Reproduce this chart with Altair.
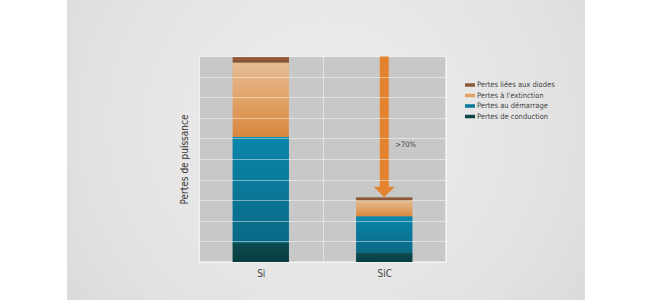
import altair as alt
import pandas as pd

categories = ["Si", "SiC"]
series = ["Pertes de conduction", "Pertes au démarrage", "Pertes à l'extinction", "Pertes liées aux diodes"]
si_values = [0.94, 5.14, 3.60, 0.27]
sic_values = [0.45, 1.77, 0.76, 0.15]
y_ticks = list(range(0, 11))
arrow_label = ">70%"
arrow_label_y = [5.7]

legend_order = ["Pertes liées aux diodes", "Pertes à l'extinction", "Pertes au démarrage", "Pertes de conduction"]
solid = {
    "Pertes liées aux diodes": "#8c5a3a",
    "Pertes à l'extinction": "#e2a466",
    "Pertes au démarrage": "#0a7a9c",
    "Pertes de conduction": "#0b4548",
}
grad = {
    "Pertes liées aux diodes": ("#9a6442", "#7f5032"),
    "Pertes à l'extinction": ("#e6bd93", "#d9883d"),
    "Pertes au démarrage": ("#0a86ab", "#0a6985"),
    "Pertes de conduction": ("#0d4c50", "#073d41"),
}

rows = []
for cat, vals in zip(categories, [si_values, sic_values]):
    for i, (s, v) in enumerate(zip(series, vals)):
        rows.append({"category": cat, "series": s, "value": v, "order": i})
df = pd.DataFrame(rows)

W, H = 247, 206
FONT = "Liberation Sans Narrow, DejaVu Sans Condensed, Roboto, sans-serif"

xaxis = alt.Axis(title=None, ticks=False, domain=False, labelAngle=0,
                 labelFontSize=10, labelColor="#444", labelPadding=6,
                 labelFont=FONT, grid=True, tickBand="extent",
                 gridColor="#ffffff", gridOpacity=0.45, zindex=1)
xscale = alt.Scale(paddingInner=0, paddingOuter=0)
yscale = alt.Scale(domain=[0, 10], nice=False)
yaxis = alt.Axis(title="Pertes de puissance", values=y_ticks, labels=False, ticks=False,
                 domain=False, grid=True, gridColor="#ffffff", gridOpacity=0.45,
                 titleFontSize=10, titleFontWeight="normal", titleColor="#333",
                 titleFont=FONT, titlePadding=10, zindex=1)


def X():
    return alt.X("category:N", sort=categories, scale=xscale, axis=xaxis)


def Y(field):
    return alt.Y(field, scale=yscale, axis=yaxis)


one = pd.DataFrame({"k": [0]})

panel = alt.Chart(one).mark_rect(
    fill=alt.RadialGradient(gradient="radial",
                            stops=[alt.GradientStop(color="#efefef", offset=0),
                                   alt.GradientStop(color="#e2e2e2", offset=0.6),
                                   alt.GradientStop(color="#d4d4d4", offset=1)],
                            x1=0.5, y1=0.45, r1=0, x2=0.5, y2=0.45, r2=0.75)
).encode(x=alt.value(-132), x2=alt.value(386), y=alt.value(-56), y2=alt.value(244))

plotbg = alt.Chart(one).mark_rect(fill="#c8c8c8", stroke="#ececec", strokeWidth=1.5).encode(
    x=alt.value(0), x2=alt.value(W), y=alt.value(0), y2=alt.value(H))

base = alt.Chart(df).transform_stack(
    stack="value", groupby=["category"], sort=[alt.SortField("order")], as_=["y0", "y1"])

solid_bars = base.mark_bar(size=56).encode(
    x=X(),
    y=Y("y0:Q"),
    y2="y1:Q",
    color=alt.Color("series:N", scale=alt.Scale(domain=legend_order,
                                                range=[solid[s] for s in legend_order]),
                    legend=alt.Legend(title=None)),
)

grad_layers = []
for s in series:
    top, bot = grad[s]
    g = alt.LinearGradient(gradient="linear",
                           stops=[alt.GradientStop(color=top, offset=0),
                                  alt.GradientStop(color=bot, offset=1)],
                           x1=0, x2=0, y1=0, y2=1)
    grad_layers.append(
        base.transform_filter(alt.datum.series == s).mark_bar(size=56, fill=g).encode(
            x=X(), y=Y("y0:Q"), y2="y1:Q",
        )
    )

arrow_base = alt.Chart(df).transform_filter(alt.datum.category == "SiC").transform_aggregate(
    total="sum(value)", groupby=["category"]).transform_calculate(top=str(y_ticks[-1]))

shaft = arrow_base.mark_rule(color="#e3832f", strokeWidth=9, y2Offset=-10).encode(
    x=X(), y=Y("top:Q"), y2="total:Q")

head = arrow_base.mark_point(shape="M-1,-0.5L1,-0.5L0,0.5Z", size=441, filled=True,
                             opacity=1, color="#e3832f", yOffset=-5.5).encode(
    x=X(), y=Y("total:Q"))

label = alt.Chart(pd.DataFrame({"category": ["SiC"], "y": arrow_label_y, "t": [arrow_label]})).mark_text(
    align="left", dx=11, fontSize=7.5, color="#444", font=FONT).encode(
    x=X(), y=Y("y:Q"), text="t:N")

chart = alt.layer(panel, plotbg, solid_bars, *grad_layers, shaft, head, label).properties(
    width=W, height=H,
    autosize=alt.AutoSizeParams(type="none"),
    padding={"left": 199, "right": 206, "top": 56, "bottom": 38},
    background="#ffffff",
).configure_view(stroke=None).configure_legend(
    orient="none", legendX=266, legendY=24, symbolType="M-1,-0.35H1V0.35H-1Z",
    symbolSize=100, symbolStrokeWidth=0, labelFontSize=7.5, labelColor="#444", labelFont=FONT,
    rowPadding=1.5, labelOffset=2, padding=0, offset=0,
)

chart.save("out.html", embed_options={"renderer": "svg", "actions": False})
